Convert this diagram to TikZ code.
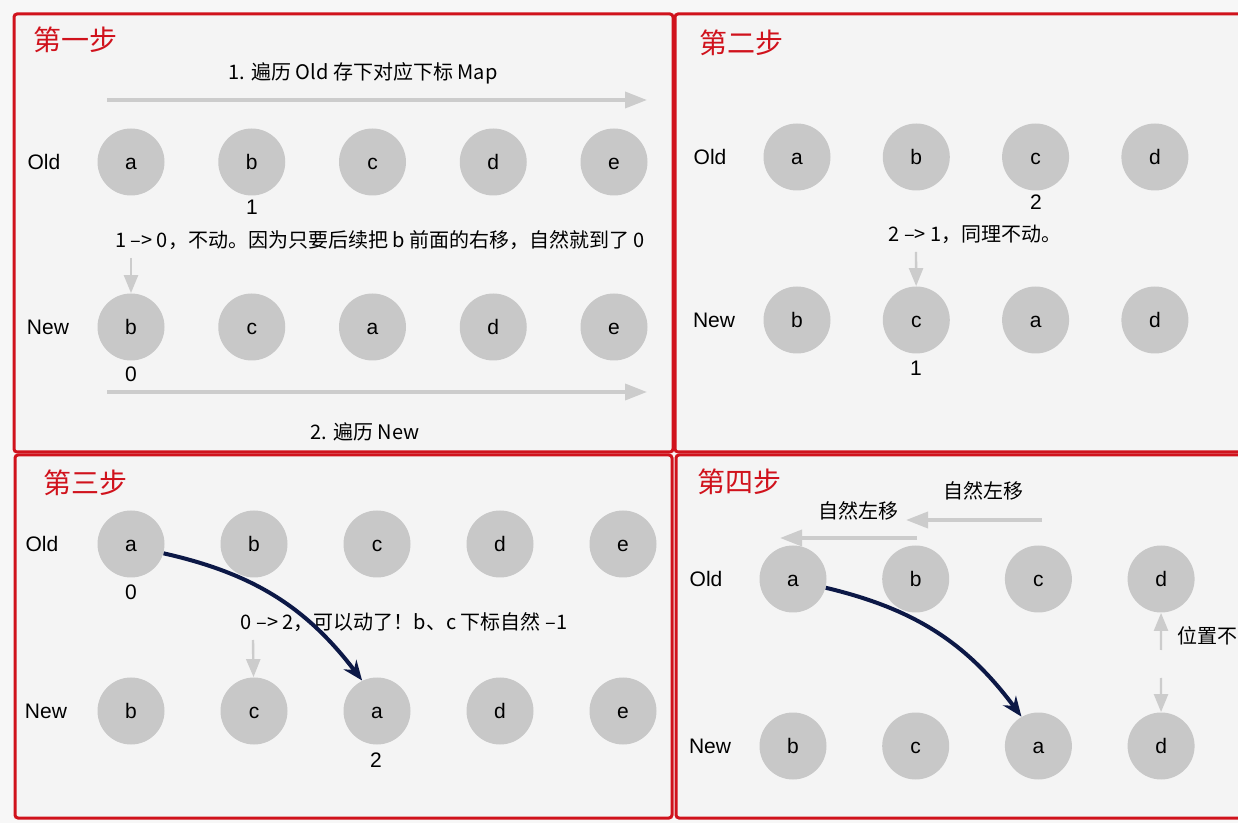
\documentclass[tikz,border=0pt]{standalone}
\usepackage{fontspec}
\setmainfont{Noto Sans CJK SC}
\newfontfamily\latinfont{Liberation Sans}
\usetikzlibrary{arrows.meta}
\definecolor{stepred}{RGB}{208,18,28}
\definecolor{panelgray}{RGB}{244,244,244}
\definecolor{lettergray}{RGB}{200,200,200}
\definecolor{arrowgray}{RGB}{204,204,204}
\definecolor{navy}{RGB}{12,24,70}
\tikzset{
	panel/.style={draw=stepred, line width=1.5pt, fill=panelgray, rounded corners=1.5pt},
	steptitle/.style={text=stepred, font=\fontsize{14}{16}\selectfont},
	letter/.style={circle, fill=lettergray, inner sep=0pt, minimum size=33.5pt, text height=0.72em, text depth=0pt, font=\latinfont\fontsize{10.5}{12}\selectfont},
	rowlabel/.style={font=\latinfont\fontsize{10.5}{12}\selectfont},
	note/.style={font=\fontsize{10}{12}\selectfont},
	scan/.style={draw=arrowgray, line width=1.8pt, -{Triangle[length=11pt,width=8pt]}},
	peek/.style={draw=arrowgray, line width=1.2pt, -{Triangle[length=9pt,width=7pt]}},
	jump/.style={draw=navy, line width=2pt, -{Stealth[length=10pt,width=8pt]}},
}
\begin{document}
\begin{tikzpicture}[x=0.5pt, y=-0.5pt]
		\useasboundingbox (0,0) rectangle (1238,823);
		\clip (0,0) rectangle (1238,823);
		\fill[white!97!black] (0,0) rectangle (1238,823);
		{
			\def\rowstep{120.75}
			\draw[panel] (14,14) rectangle (673,452);
			\node[steptitle] (t1) at (75,40) {第一步};
			\node[note] (m1) at (363,73) {1. 遍历 Old 存下对应下标 Map};
			\coordinate (s1a) at (107,100);
			\coordinate (s1b) at (647,100);
			\draw[scan] (s1a) -- (s1b);
			\node[rowlabel] (old1) at (44,162) {Old};
			\node[rowlabel] (new1) at (48,327) {New};
			\foreach \l [count=\i] in {a,b,c,d,e}
				\node[letter] (o1-\i) at ({131+\rowstep*(\i-1)},162) {\l};
			\foreach \l [count=\i] in {b,c,a,d,e}
				\node[letter] (n1-\i) at ({131+\rowstep*(\i-1)},327) {\l};
			\node[rowlabel] (i1o) at (252,207) {1};
			\node[note] (r1) at (380,240) {1 --> 0，不动。因为只要后续把 b 前面的右移，自然就到了 0};
			\coordinate (p1) at (131,258);
			\draw[peek] (p1) -- (n1-1);
			\node[rowlabel] (i1n) at (131,374) {0};
			\coordinate (s2a) at (107,392);
			\coordinate (s2b) at (647,392);
			\draw[scan] (s2a) -- (s2b);
			\node[note] (m2) at (365,432) {2. 遍历 New};
		}
		{
			\def\rowstep{119.3}
			\draw[panel] (675,14) rectangle (1260,452);
			\node[steptitle] (t2) at (741,43) {第二步};
			\node[rowlabel] (old2) at (710,157) {Old};
			\node[rowlabel] (new2) at (714,320) {New};
			\foreach \l [count=\i] in {a,b,c,d}
				\node[letter] (o2-\i) at ({797+\rowstep*(\i-1)},157) {\l};
			\foreach \l [count=\i] in {b,c,a,d}
				\node[letter] (n2-\i) at ({797+\rowstep*(\i-1)},320) {\l};
			\node[rowlabel] (i2o) at (1036,202) {2};
			\node[note] (r2) at (975,234) {2 --> 1，同理不动。};
			\coordinate (p2) at (916,252);
			\draw[peek] (p2) -- (n2-2);
			\node[rowlabel] (i2n) at (916,368) {1};
		}
		{
			\def\rowstep{123}
			\draw[panel] (15,455) rectangle (672,818);
			\node[steptitle] (t3) at (85,483) {第三步};
			\node[rowlabel] (old3) at (42,544) {Old};
			\node[rowlabel] (new3) at (46,711) {New};
			\foreach \l [count=\i] in {a,b,c,d,e}
				\node[letter] (o3-\i) at ({131+\rowstep*(\i-1)},544) {\l};
			\foreach \l [count=\i] in {b,c,a,d,e}
				\node[letter] (n3-\i) at ({131+\rowstep*(\i-1)},711) {\l};
			\node[rowlabel] (i3o) at (131,592) {0};
			\node[note] (r3) at (404,622) {0 --> 2，可以动了！b、c 下标自然 --1};
			\coordinate (p3) at (253,640);
			\draw[peek] (p3) -- (n3-2);
			\node[rowlabel] (i3n) at (376,760) {2};
			\draw[jump] (o3-1.-16) to[bend left=20] (n3-3.116);
		}
		{
			\def\rowstep{122.7}
			\draw[panel] (676,455) rectangle (1260,818);
			\node[steptitle] (t4) at (739,482) {第四步};
			\node[note] (l4a) at (983,491) {自然左移};
			\node[note] (l4b) at (858,511) {自然左移};
			\coordinate (s4a) at (1042,520);
			\coordinate (s4b) at (906,520);
			\draw[scan] (s4a) -- (s4b);
			\coordinate (s4c) at (917,538);
			\coordinate (s4d) at (780,538);
			\draw[scan] (s4c) -- (s4d);
			\node[rowlabel] (old4) at (706,579) {Old};
			\node[rowlabel] (new4) at (710,746) {New};
			\foreach \l [count=\i] in {a,b,c,d}
				\node[letter] (o4-\i) at ({793+\rowstep*(\i-1)},579) {\l};
			\foreach \l [count=\i] in {b,c,a,d}
				\node[letter] (n4-\i) at ({793+\rowstep*(\i-1)},746) {\l};
			\coordinate (p4a) at (1161,650);
			\draw[peek] (p4a) -- (o4-4);
			\coordinate (p4b) at (1161,678);
			\draw[peek] (p4b) -- (n4-4);
			\node[note, anchor=west, inner sep=0pt] (r4) at (1177,636) {位置不};
			\draw[jump] (o4-1.-15) to[bend left=20] (n4-3.120);
		}
\end{tikzpicture}
\end{document}
